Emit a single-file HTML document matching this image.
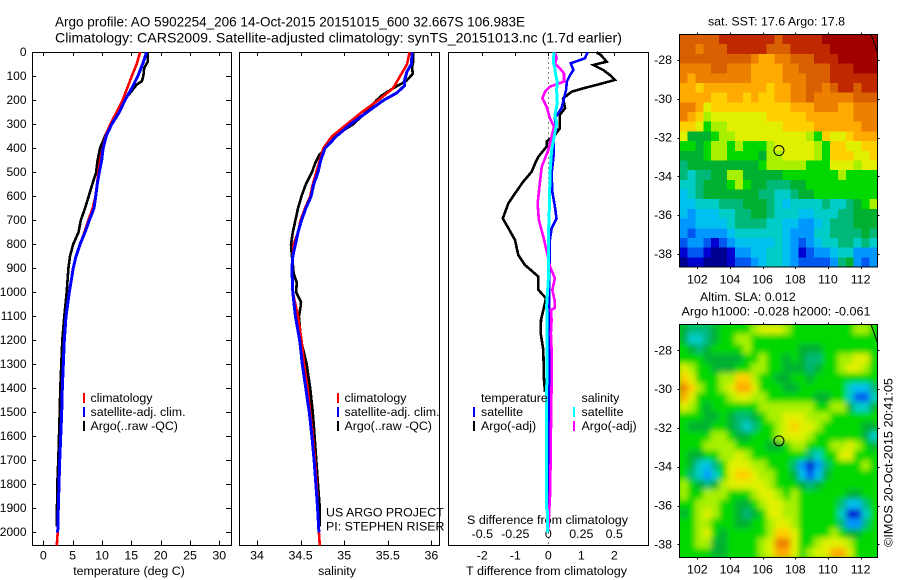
<!DOCTYPE html>
<html lang="en">
<head>
<meta charset="utf-8">
<title>Argo profile 5902254_206</title>
<style>
html,body{margin:0;padding:0;background:#fff;width:900px;height:580px;overflow:hidden}
svg{display:block}
text{font-family:"Liberation Sans",sans-serif;font-size:12.4px;fill:#000}
.title{font-size:14px}
</style>
</head>
<body>
<svg id="chart" xmlns="http://www.w3.org/2000/svg" width="900" height="580" viewBox="0 0 900 580">
  <defs>
    <filter id="smooth" x="-10%" y="-10%" width="120%" height="120%"><feGaussianBlur stdDeviation="3"/></filter>
    <clipPath id="clip-sla"><rect x="679.5" y="324.5" width="198" height="233"/></clipPath>
  </defs>
  <rect x="0" y="0" width="900" height="580" fill="#fff"/>
  <text class="title" x="55" y="26.5" textLength="470" lengthAdjust="spacingAndGlyphs">Argo profile: AO 5902254_206 14-Oct-2015 20151015_600 32.667S 106.983E</text>
  <text class="title" x="55" y="42.5" textLength="567" lengthAdjust="spacingAndGlyphs">Climatology: CARS2009. Satellite-adjusted climatology: synTS_20151013.nc (1.7d earlier)</text>

  <text x="129" y="575" text-anchor="middle">temperature (deg C)</text>
  <text x="337" y="575" text-anchor="middle">salinity</text>
  <text x="466" y="575" textLength="161" lengthAdjust="spacingAndGlyphs">T difference from climatology</text>
  <text x="467" y="524" textLength="161" lengthAdjust="spacingAndGlyphs">S difference from climatology</text>

  <text x="776.5" y="25.5" text-anchor="middle">sat. SST: 17.6 Argo: 17.8</text>
  <text x="700" y="301">Altim. SLA: 0.012</text>
  <text x="681.5" y="315.5" textLength="189" lengthAdjust="spacingAndGlyphs">Argo h1000: -0.028 h2000: -0.061</text>
  <text transform="translate(892.5,547) rotate(-90)" textLength="169" lengthAdjust="spacingAndGlyphs">©IMOS 20-Oct-2015 20:41:05</text>

  <text x="326" y="516.5">US ARGO PROJECT</text>
  <text x="326" y="530.5">PI: STEPHEN RISER</text>
</svg>
<script>
// ---------- depth axis ----------
const depthTicks = [0,100,200,300,400,500,600,700,800,900,1000,1100,1200,1300,1400,1500,1600,1700,1800,1900,2000];

// ---------- axis tick labels ----------
const tempTicks = [0,5,10,15,20,25,30];
const salTicks = [34,34.5,35,35.5,36];
const tDiffTicks = [-2,-1,0,1,2];
const sDiffTicks = [-0.5,-0.25,0,0.25,0.5];
const sDiffLabels = ['-0.5','-0.25','0','0.25','0.5'];
const lonTicks = [102,104,106,108,110,112];
const latTicks = [-28,-30,-32,-34,-36,-38];

// ---------- temperature profiles ----------
const climDepths = [0,50,100,150,200,250,300,350,400,450,500,550,600,650,700,750,800,850,900,950,1000,1100,1200,1300,1400,1500,1600,1700,1800,1900,2000,2055];
const tempClim = [16.5,15.9,15.06,14.3,13.5,12.5,11.4,10.6,10.1,9.7,9.4,9.15,8.9,8.4,7.67,7,6.25,5.6,5.1,4.75,4.4,3.87,3.58,3.41,3.24,3.14,2.96,2.8,2.68,2.56,2.45,2.3];
const tempSat = [17.6,16.9,16.1,15.06,13.9,12.95,11.66,10.7,10.2,9.95,9.55,9.2,8.93,8.64,7.84,7.1,6.25,5.57,5.1,4.77,4.43,3.87,3.58,3.41,3.24,3.14,2.96,2.8,2.68,2.56,2.45];
const argoTempDepths = [0,40,65,100,120,135,170,200,250,300,350,400,450,500,550,600,650,700,750,800,850,900,1000,1100,1200,1300,1400,1500,1600,1700,1800,1900,1975];
const tempArgo = [17.8,17.8,17.2,17.05,16.8,15.9,14.8,13.75,12.6,11.5,10.5,9.66,9.26,9,8.35,7.73,7.1,6.4,6,5.1,4.55,4.27,3.98,3.58,3.24,3.07,2.9,2.8,2.68,2.56,2.39,2.33,2.33];

// ---------- salinity profiles ----------
const salClimDepths = [0,50,75,100,150,200,250,300,350,400,450,500,550,600,650,700,750,800,850,900,1000,1100,1200,1300,1400,1500,1600,1700,1800,1900,2000,2055];
const salClim = [35.75,35.72,35.68,35.64,35.56,35.39,35.2,35.03,34.86,34.76,34.72,34.68,34.64,34.61,34.55,34.5,34.47,34.42,34.41,34.4,34.41,34.47,34.51,34.54,34.58,34.61,34.64,34.665,34.685,34.695,34.71,34.72];
const salSatDepths = [0,50,80,120,140,170,200,250,300,350,400,450,500,550,600,650,700,750,800,850,900,1000,1100,1200,1300,1400,1500,1600,1700,1800,1900,2000];
const salSat = [35.78,35.77,35.72,35.69,35.69,35.6,35.45,35.26,35.07,34.91,34.78,34.73,34.7,34.65,34.62,34.56,34.51,34.47,34.44,34.41,34.4,34.41,34.44,34.49,34.52,34.56,34.6,34.63,34.655,34.675,34.695,34.71];
const salArgoDepths = [0,40,60,90,120,150,180,200,250,280,300,350,400,430,460,500,550,600,650,700,750,800,850,880,920,960,1000,1040,1060,1100,1200,1300,1400,1500,1600,1700,1800,1900,1975];
const salArgo = [35.79,35.79,35.78,35.785,35.71,35.56,35.43,35.37,35.25,35.16,35.1,34.89,34.78,34.71,34.67,34.63,34.56,34.51,34.47,34.44,34.41,34.39,34.4,34.41,34.42,34.455,34.45,34.505,34.5,34.48,34.505,34.57,34.61,34.64,34.66,34.68,34.7,34.72,34.72];

// ---------- difference profiles ----------
const tDiffArgoDepths = [0,11,39,53,74,95,115,132,150,164,192,233,261,317,345,372,393,435,463,497,539,588,629,692,733,782,845,886,935,990,1025,1074,1115,1171,1240,1365,1414];
const tDiffArgo = [1.46,1.59,1.77,1.36,1.67,1.87,2.02,1.57,1.06,0.71,0.45,0.51,0.35,0.35,0.2,-0.05,-0.05,-0.3,-0.4,-0.5,-0.76,-1.01,-1.21,-1.38,-1.21,-1.01,-0.91,-0.71,-0.3,-0.3,-0.07,-0.15,-0.22,-0.23,-0.15,-0.13,-0.1];
const tDiffSatDepths = [0,25,46,74,95,122,157,233,275,317,358,421,504,581,643,692,733,782,921,1500,1900];
const tDiffSat = [1.19,1.11,0.68,0.76,0.66,0.56,0.54,0.4,0.2,0.25,0.15,0.17,0.1,0.12,0.2,0.25,0.1,0.05,0.03,0.03,0.02];
const sDiffArgoDepths = [0,25,46,67,88,122,143,164,192,227,275,310,352,407,477,539,630,699,768,838,893,942,990,1039,1065,1074,1115,1171,1240,1380,1585,1682,1850,1990];
const sDiffArgo = [0.05,0.063,0.05,0.088,0.119,0.119,0.013,-0.025,-0.045,-0.013,0.013,0.043,0.025,0,-0.05,-0.063,-0.081,-0.071,-0.038,-0.008,0.013,0.05,0.03,0.05,0.05,0.02,0.025,0.02,0.025,0.025,0.02,0.018,0.013,0];
const sDiffSatDepths = [0,39,67,95,122,157,213,261,296,352,407,504,643,782,921,1060,1085,1500,1900,1915,2000];
const sDiffSat = [0.043,0.038,0.05,0.056,0.068,0.063,0.068,0.05,0.063,0.045,0.025,0.013,0.008,0,0.003,-0.013,-0.008,-0.013,-0.013,-0.005,-0.005];

// ---------- map data: colour-scale level per cell, north to south ----------
const sstCells = [
[14,14,14,14,14,15,15,15,15,15,15,15,14,15,15,15,15,15,16,16,16,16,16,16,16],
[14,14,13,14,14,14,15,15,15,15,15,14,14,14,15,15,15,15,15,16,16,16,16,16,16],
[14,14,14,14,14,14,14,14,14,13,12,12,13,13,14,14,14,15,15,15,16,16,16,16,16],
[13,13,13,13,14,14,13,13,13,12,12,12,12,13,13,14,14,14,14,15,15,15,16,16,16],
[13,12,13,13,13,13,13,13,13,12,12,12,12,13,13,13,14,14,14,15,15,15,15,15,15],
[12,12,11,12,12,12,12,12,12,12,12,11,12,12,13,13,14,14,13,14,15,15,14,15,15],
[12,12,12,12,11,11,12,12,11,12,11,11,12,12,13,13,14,13,13,13,13,13,14,14,14],
[13,13,12,10,11,11,11,11,11,11,11,11,11,11,12,12,12,13,13,13,12,12,13,13,13],
[13,12,11,9,10,10,10,10,10,10,10,11,11,11,11,11,12,12,12,12,12,12,13,13,13],
[11,11,10,8,9,9,10,10,10,10,10,10,10,11,11,11,11,12,12,12,12,12,12,13,13],
[10,7,7,7,8,9,9,10,10,10,10,10,10,10,10,10,9,8,11,10,10,11,12,12,12],
[8,8,7,8,9,9,8,9,8,8,8,9,10,10,10,10,10,9,8,11,11,10,10,11,11],
[7,7,7,8,9,9,8,8,8,8,7,9,9,10,10,10,10,9,8,11,11,11,10,10,11],
[6,7,7,7,7,7,7,7,7,7,8,9,9,9,9,9,8,8,8,10,10,10,9,10,10],
[6,5,6,6,7,7,9,9,7,7,7,7,7,8,8,8,8,8,8,8,9,8,8,8,8],
[5,5,6,7,7,7,8,9,8,7,7,6,6,6,7,7,8,8,8,8,8,8,8,8,8],
[4,5,6,7,7,7,7,7,7,7,6,6,5,5,6,7,7,8,8,8,8,8,8,8,8],
[4,4,5,5,5,6,6,6,7,7,7,6,5,4,5,5,5,5,6,5,5,6,7,8,9],
[4,3,4,4,4,5,5,6,6,7,7,6,5,5,5,4,4,5,5,5,6,6,7,7,7],
[3,3,4,4,4,4,5,6,6,6,6,5,5,4,4,3,3,4,5,6,6,6,7,7,7],
[3,2,3,3,3,3,4,5,5,5,5,5,5,4,3,3,3,5,5,6,6,6,6,7,6],
[2,3,3,2,1,2,3,4,4,4,4,4,5,4,3,2,3,4,5,5,6,6,5,6,5],
[1,2,2,1,0,0,1,3,3,4,4,5,5,4,3,1,2,3,3,4,5,5,3,3,3],
[0,1,1,0,0,0,1,2,2,3,4,5,5,4,3,2,2,2,2,3,6,7,3,2,3]
];
const slaCells = [
[7,6,6,6,7,8,8,8,8,9,10,10,10,9,8,8,8,8,8,8,8,8,9,9,8],
[7,5,5,6,7,8,8,9,9,8,8,8,8,8,8,8,8,8,8,8,8,8,8,8,8],
[8,7,6,7,8,8,8,8,9,8,8,8,8,8,8,7,7,7,8,8,8,8,8,8,8],
[8,8,8,7,7,7,7,7,8,8,9,8,8,7,8,7,6,6,8,8,9,9,10,10,8],
[10,9,8,8,7,7,7,8,8,9,9,8,8,7,7,7,6,7,8,8,9,10,10,9,8],
[11,10,8,8,8,9,9,11,11,9,8,8,7,7,8,8,7,8,8,8,8,8,8,8,8],
[13,11,9,8,8,9,10,12,12,10,8,8,8,7,7,8,8,8,8,8,8,5,4,4,6],
[12,10,8,8,8,8,9,10,10,9,9,8,8,8,8,8,8,7,7,8,8,5,2,2,5],
[10,9,8,7,8,8,8,8,8,8,9,9,9,9,9,9,9,8,8,9,9,7,5,5,7],
[8,8,8,7,7,8,7,6,6,7,8,9,9,10,10,10,9,9,9,8,8,8,8,8,8],
[8,7,7,7,8,8,7,6,5,6,8,8,9,10,11,10,10,9,8,8,8,8,8,7,7],
[8,8,8,8,9,9,8,7,7,8,8,8,9,10,10,10,9,8,8,8,8,8,8,7,5],
[8,8,8,9,9,9,9,8,8,8,8,7,7,8,9,9,8,8,8,9,9,10,9,8,7],
[8,7,7,8,8,9,9,10,9,8,8,8,8,8,8,8,6,5,8,8,10,10,8,8,8],
[8,7,5,4,6,8,10,10,10,9,9,8,8,8,6,3,1,3,6,8,8,8,8,9,8],
[8,6,5,3,5,8,10,11,11,10,9,9,8,8,7,4,2,4,7,8,8,8,8,8,8],
[9,8,7,6,7,9,10,10,10,10,10,9,8,8,8,7,6,7,8,8,8,8,8,8,8],
[9,8,8,9,9,9,8,8,8,9,10,10,9,8,9,8,8,8,8,8,8,7,7,8,8],
[8,8,9,9,9,8,8,7,7,8,9,10,10,9,9,8,8,8,8,8,6,4,4,6,8],
[7,8,9,10,9,8,8,7,6,7,8,10,10,9,9,8,8,8,8,8,5,1,1,5,8],
[8,8,9,9,8,8,8,7,7,8,8,9,10,10,9,8,8,8,8,8,6,3,3,6,8],
[8,8,9,10,8,7,8,8,8,8,8,9,11,11,10,8,8,8,8,9,8,7,7,8,8],
[8,8,9,9,7,7,8,8,8,8,9,10,13,13,10,8,8,9,10,10,10,9,8,8,8],
[8,8,8,8,7,7,8,8,8,8,9,10,12,12,10,8,9,10,10,12,12,10,8,8,8]
];
const argoLon = [107];
const argoLat = [-32.667];
const coastLon = [112.64,113.02];
const coastLat = [-26.68,-27.57];

// ---------- colour scale ----------
const levelColours = ['#000090','#0000d0','#0058f0','#0098ff','#00c0f0','#00ccc8','#00b878','#00b030','#00d800','#a8f000','#e0f000','#ffd000','#ffaa00','#ee8000','#d86000','#c02800','#a00000'];

// ---------- scales ----------
const NS = 'http://www.w3.org/2000/svg';
const svg = document.getElementById('chart');
function mk(tag, attrs, parent) {
  const n = document.createElementNS(NS, tag);
  for (const k in attrs) n.setAttribute(k, attrs[k]);
  (parent || svg).appendChild(n);
  return n;
}
const yDepth = d => 52.3 + d * 0.24;
const xTemp = t => 43.3 + t * 5.867;
const xSal = s => 257 + (s - 34) * 87.2;
const xTDiff = t => 548.3 + t * 33;
const xSDiff = s => 548.3 + s * 132;
const PLOT_TOP = 52.5, PLOT_BOTTOM = 545.5;

function rule(x1, y1, x2, y2, name) {
  const l = mk('line', {x1: x1, y1: y1, x2: x2, y2: y2, stroke: '#000', 'stroke-width': 1, 'shape-rendering': 'crispEdges'});
  
  
  return l;
}
function frame(x, y, w, h, name) {
  const r = mk('rect', {x: x, y: y, width: w, height: h, fill: 'none', stroke: '#000', 'stroke-width': 1, 'shape-rendering': 'crispEdges'});
  
  
}
function label(x, y, str, anchor, name, size) {
  const t = mk('text', {x: x, y: y, 'text-anchor': anchor});
  if (size) t.style.fontSize = size + 'px';
  t.textContent = str;
  
  
}
function profile(depths, values, xScale, colour, name, width) {
  const pts = values.map((v, i) => xScale(v).toFixed(1) + ',' + yDepth(depths[i]).toFixed(1)).join(' ');
  const p = mk('polyline', {points: pts, fill: 'none', stroke: colour, 'stroke-width': width, 'shape-rendering': 'crispEdges', 'stroke-linejoin': 'miter'});
  
  
}
function legendEntry(barX, textX, baseline, colour, str, name) {
  const b = mk('rect', {x: barX, y: baseline - 9, width: 2, height: 10, fill: colour});
  
  
  label(textX, baseline, str, 'start', name + '-label');
}

// ---------- panels ----------
frame(32.5, PLOT_TOP, 199, 493, 'temperature-panel-frame');
frame(239.5, PLOT_TOP, 200, 493, 'salinity-panel-frame');
frame(448.5, PLOT_TOP, 200, 493, 'difference-panel-frame');

depthTicks.forEach(d => {
  const y = Math.round(yDepth(d)) + 0.5;
  rule(32.5, y, 36, y, 'depth-tick-left');
  rule(226, y, 231.5, y, 'depth-tick-right');
  label(26.5, yDepth(d) + 3.5, String(d), 'end', 'depth-tick-label', 12);
});
tempTicks.forEach(t => {
  const x = Math.round(xTemp(t)) + 0.5;
  rule(x, PLOT_TOP, x, PLOT_TOP + 3.5, 'temperature-tick-top');
  rule(x, PLOT_BOTTOM - 5, x, PLOT_BOTTOM, 'temperature-tick-bottom');
  label(xTemp(t), 559.5, String(t), 'middle', 'temperature-tick-label');
});
salTicks.forEach(s => {
  const x = Math.round(xSal(s)) + 0.5;
  rule(x, PLOT_TOP, x, PLOT_TOP + 3.5, 'salinity-tick-top');
  rule(x, PLOT_BOTTOM - 5, x, PLOT_BOTTOM, 'salinity-tick-bottom');
  label(xSal(s), 559.5, String(s), 'middle', 'salinity-tick-label');
});
tDiffTicks.forEach(t => {
  const x = Math.round(xTDiff(t)) + 0.5;
  rule(x, PLOT_TOP, x, PLOT_TOP + 3.5, 't-difference-tick-top');
  label(xTDiff(t), 559.5, String(t), 'middle', 't-difference-tick-label');
});
sDiffTicks.forEach((s, i) => {
  label(xSDiff(s), 538, sDiffLabels[i], 'middle', 's-difference-tick-label');
});

// zero reference in the difference panel
const zero = mk('line', {x1: xTDiff(0), y1: PLOT_TOP, x2: xTDiff(0), y2: PLOT_BOTTOM, stroke: '#000', 'stroke-width': 1, 'stroke-dasharray': '1 4', 'shape-rendering': 'crispEdges'});



// ---------- series ----------
profile(argoTempDepths, tempArgo, xTemp, '#000', 'temperature-argo-line', 2.6);
profile(climDepths, tempClim, xTemp, '#f00', 'temperature-climatology-line', 2.6);
profile(climDepths, tempSat, xTemp, '#00f', 'temperature-satellite-line', 3);

profile(salArgoDepths, salArgo, xSal, '#000', 'salinity-argo-line', 2.6);
profile(salClimDepths, salClim, xSal, '#f00', 'salinity-climatology-line', 2.6);
profile(salSatDepths, salSat, xSal, '#00f', 'salinity-satellite-line', 3);

profile(tDiffArgoDepths, tDiffArgo, xTDiff, '#000', 't-difference-argo-line', 2.6);
profile(tDiffSatDepths, tDiffSat, xTDiff, '#00f', 't-difference-satellite-line', 2.6);
profile(sDiffArgoDepths, sDiffArgo, xSDiff, '#f0f', 's-difference-argo-line', 2.6);
profile(sDiffSatDepths, sDiffSat, xSDiff, '#0ff', 's-difference-satellite-line', 3);

// ---------- legends ----------
legendEntry(83, 90.5, 402, '#f00', 'climatology', 'temperature-legend-climatology');
legendEntry(83, 90.5, 416, '#00f', 'satellite-adj. clim.', 'temperature-legend-satellite');
legendEntry(83, 90.5, 430, '#000', 'Argo(..raw -QC)', 'temperature-legend-argo');
legendEntry(337, 344.5, 402, '#f00', 'climatology', 'salinity-legend-climatology');
legendEntry(337, 344.5, 416, '#00f', 'satellite-adj. clim.', 'salinity-legend-satellite');
legendEntry(337, 344.5, 430, '#000', 'Argo(..raw -QC)', 'salinity-legend-argo');
label(481, 402, 'temperature', 'start', 'difference-legend-temperature-heading');
legendEntry(473, 481, 416, '#00f', 'satellite', 'difference-legend-t-satellite');
legendEntry(473, 481, 430, '#000', 'Argo(-adj)', 'difference-legend-t-argo');
label(581.5, 402, 'salinity', 'start', 'difference-legend-salinity-heading');
legendEntry(573, 581.5, 416, '#0ff', 'satellite', 'difference-legend-s-satellite');
legendEntry(573, 581.5, 430, '#f0f', 'Argo(-adj)', 'difference-legend-s-argo');

// ---------- maps ----------
function drawMap(cells, box, prefix, smooth) {
  const xLon = lon => 697.3 + (lon - 102) * 16.33;
  const yLat = lat => box.lat28 + (-28 - lat) * 19.4;
  let host = svg;
  if (smooth) {
    const clip = mk('g', {'clip-path': 'url(#clip-sla)'});
    
    
    host = mk('g', {filter: 'url(#smooth)'}, clip);
    
    
    mk('rect', {x: box.x - 20, y: box.y - 20, width: box.w + 40, height: box.h + 40, fill: levelColours[8]}, host);
  }
  const rows = cells.length;
  const cols = cells[0].length;
  const cw = box.w / cols, ch = box.h / rows;
  cells.forEach((row, r) => {
    row.forEach((level, c) => {
      const cell = mk('rect', {x: (box.x + c * cw).toFixed(2), y: (box.y + r * ch).toFixed(2), width: (cw + 0.4).toFixed(2), height: (ch + 0.4).toFixed(2), fill: levelColours[level], 'shape-rendering': 'crispEdges'}, host);
      
      
    });
  });
  frame(box.x, box.y, box.w, box.h, prefix + '-map-frame');
  lonTicks.forEach(lon => {
    const x = Math.round(xLon(lon)) + 0.5;
    rule(x, box.y - 2, x, box.y, prefix + '-map-tick-top');
    rule(x, box.y + box.h, x, box.y + box.h + 2, prefix + '-map-tick-bottom');
    label(xLon(lon), box.labelY, String(lon), 'middle', prefix + '-map-longitude-label');
  });
  latTicks.forEach(lat => {
    const y = Math.round(yLat(lat)) + 0.5;
    rule(box.x - 2, y, box.x, y, prefix + '-map-tick-left');
    rule(box.x + box.w, y, box.x + box.w + 2, y, prefix + '-map-tick-right');
    label(672, yLat(lat) + 4, String(lat), 'end', prefix + '-map-latitude-label');
  });
  const coast = mk('polyline', {points: coastLon.map((lon, i) => xLon(lon).toFixed(1) + ',' + yLat(coastLat[i]).toFixed(1)).join(' '), fill: 'none', stroke: '#000', 'stroke-width': 1});
  
  
  argoLon.forEach((lon, i) => {
    const m = mk('circle', {cx: xLon(lon), cy: yLat(argoLat[i]), r: 5, fill: 'none', stroke: '#000', 'stroke-width': 1});
    
    
  });
}
drawMap(sstCells, {x: 679.5, y: 34.5, w: 198, h: 232.5, lat28: 60, labelY: 283.5}, 'sst', false);
drawMap(slaCells, {x: 679.5, y: 324.5, w: 198, h: 233, lat28: 350.3, labelY: 573.5}, 'sla', true);
</script>
</body>
</html>
